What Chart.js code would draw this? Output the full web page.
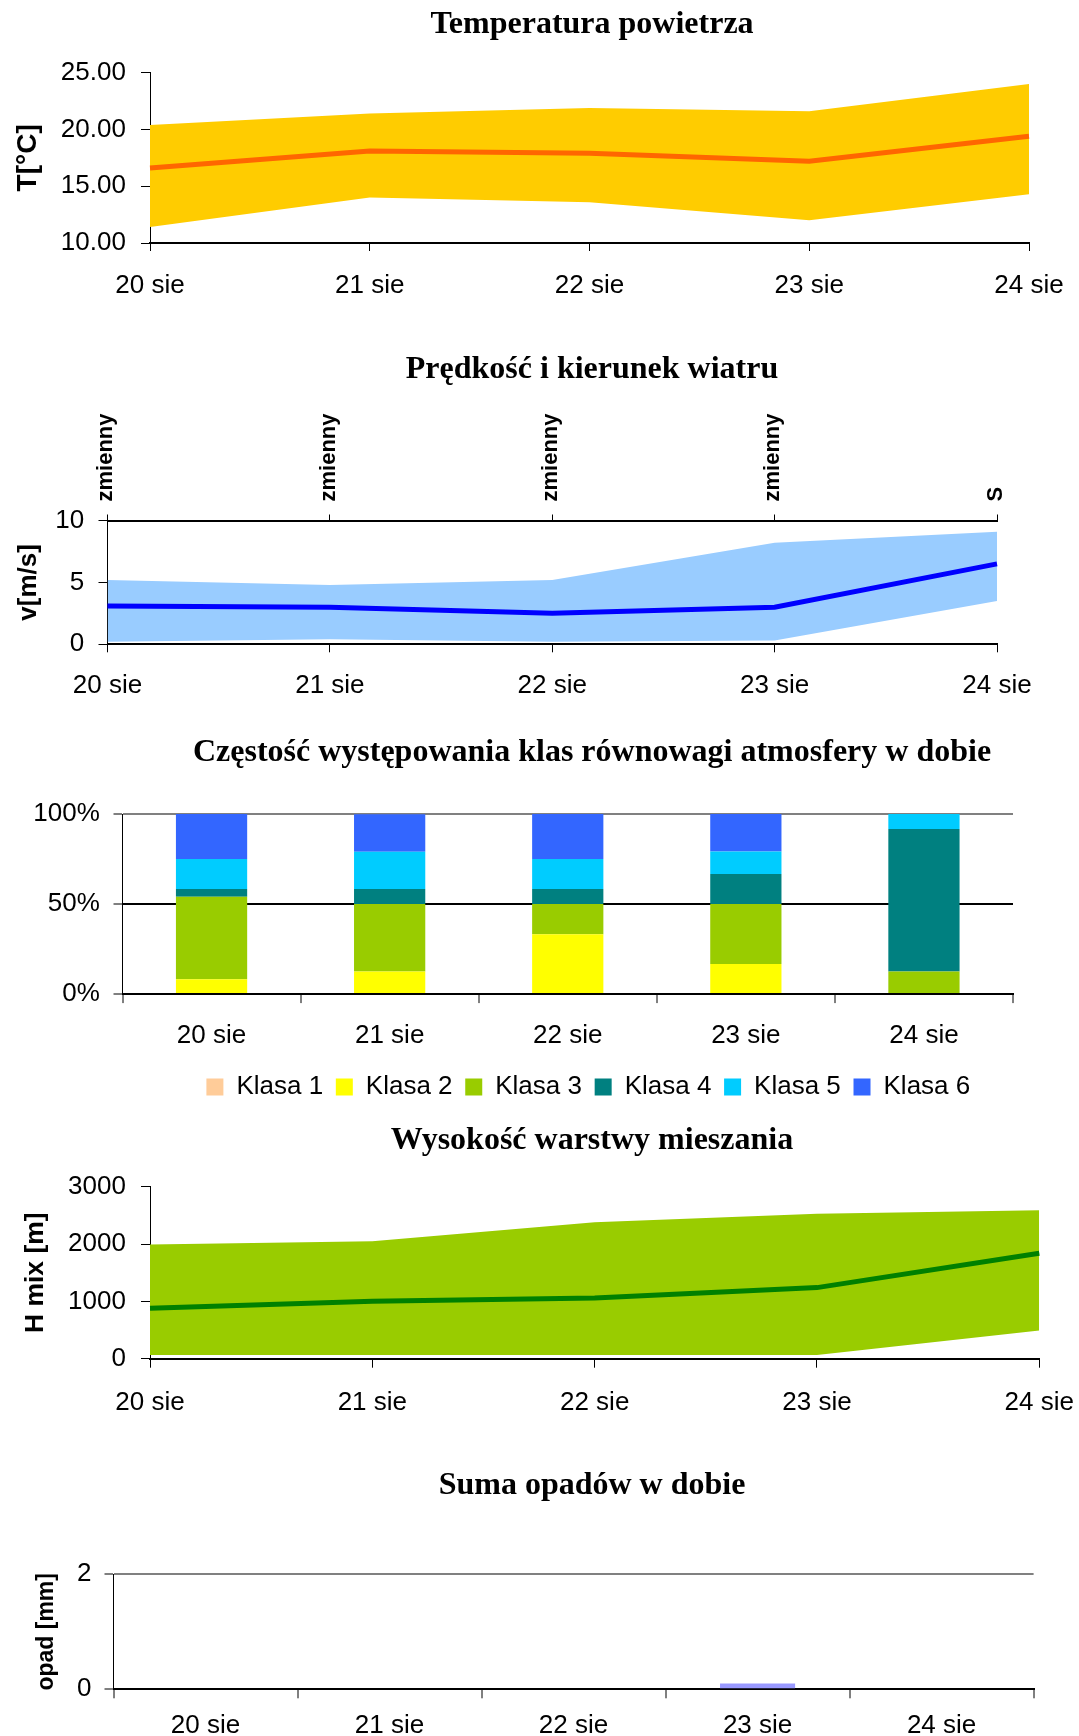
<!DOCTYPE html>
<html><head><meta charset="utf-8">
<script src="https://cdn.jsdelivr.net/npm/chart.js@4.4.1/dist/chart.umd.min.js"></script>
<style>
html,body{margin:0;padding:0;background:#fff;}
#wrap{position:relative;width:1079px;height:1736px;overflow:hidden;background:#fff;}
canvas{position:absolute;left:0;}
</style></head><body>
<div id="wrap">
<canvas id="c1" width="1079" height="330" style="top:0px;width:1079px;height:330px"></canvas>
<canvas id="c2" width="1079" height="385" style="top:330px;width:1079px;height:385px"></canvas>
<canvas id="c3" width="1079" height="395" style="top:715px;width:1079px;height:395px"></canvas>
<canvas id="c4" width="1079" height="330" style="top:1110px;width:1079px;height:330px"></canvas>
<canvas id="c5" width="1079" height="296" style="top:1440px;width:1079px;height:296px"></canvas>
</div>
<script>
// ---- data ----
const days = ['20 sie', '21 sie', '22 sie', '23 sie', '24 sie'];

const tempMean = [16.6, 18.1, 17.9, 17.2, 19.4];
const tempMax  = [20.4, 21.4, 21.9, 21.6, 24.0];
const tempMin  = [11.4, 14.0, 13.6, 12.0, 14.3];
const tempTicks = [10, 15, 20, 25];

const windDir  = ['zmienny', 'zmienny', 'zmienny', 'zmienny', 'S'];
const windMean = [3.1, 3.0, 2.5, 3.0, 6.5];
const windMax  = [5.2, 4.8, 5.2, 8.2, 9.1];
const windMin  = [0.2, 0.4, 0.2, 0.3, 3.5];

const classNames = ['Klasa 1', 'Klasa 2', 'Klasa 3', 'Klasa 4', 'Klasa 5', 'Klasa 6'];
const klasa1 = [0, 0, 0, 0, 0];
const klasa2 = [8.3, 12.5, 33.3, 16.7, 0];
const klasa3 = [45.8, 37.5, 16.7, 33.3, 12.5];
const klasa4 = [4.2, 8.3, 8.3, 16.7, 79.2];
const klasa5 = [16.7, 20.8, 16.7, 12.5, 8.3];
const klasa6 = [25.0, 20.8, 25.0, 20.8, 0];

const hmixMean = [880, 1000, 1060, 1240, 1840];
const hmixMax  = [1990, 2050, 2380, 2530, 2590];
const hmixMin  = [65, 65, 65, 65, 490];

const precip = [0, 0, 0, 0.1, 0];

// ---- styling helpers ----
Chart.defaults.font.family = "'Liberation Sans', Arial, sans-serif";
Chart.defaults.color = '#000';
const titleFont = {family: "'Liberation Serif', 'Times New Roman', serif", size: 32, weight: 'bold'};
const tickFont = {size: 26};
const axisTitleFont = {size: 26, weight: 'bold'};
const NONE = 'rgba(0,0,0,0)';

const layoutTweaks = {
  id: 'layoutTweaks',
  afterLayout(chart, args, opts) {
    if (opts && opts.titleCenter !== undefined && chart.titleBlock) {
      const t = chart.titleBlock;
      t.left = opts.titleCenter - 500; t.right = opts.titleCenter + 500; t.width = 1000;
    }
    if (opts && opts.legendLeft !== undefined && chart.legend) {
      const lg = chart.legend; const w = lg.right - lg.left;
      lg.left = opts.legendLeft; lg.right = opts.legendLeft + w;
    }
  }
};
Chart.register(layoutTweaks);

function fixX(h) { return function (s) { s.height = h; s.paddingLeft = 0; s.paddingRight = 0; }; }
function fixY(w) { return function (s) { s.width = w; }; }

function base(padRight, title, tPadTop, tPadBottom) {
  return {
    responsive: false, animation: false, devicePixelRatio: 1,
    layout: {padding: {left: 0, right: padRight, top: 0, bottom: 0}},
    plugins: {
      legend: {display: false}, tooltip: {enabled: false},
      title: {display: true, text: title, font: titleFont, color: '#000', fullSize: false,
              padding: {top: tPadTop, bottom: tPadBottom}},
      layoutTweaks: {titleCenter: 592}
    }
  };
}

function bandDatasets(mean, max, min, lineColor, bandColor, lw) {
  return [
    {data: mean, borderColor: lineColor, borderWidth: lw, pointRadius: 0, tension: 0, fill: false},
    {data: max, borderColor: NONE, borderWidth: 0, backgroundColor: bandColor, pointRadius: 0, tension: 0, fill: '+1'},
    {data: min, borderColor: NONE, borderWidth: 0, backgroundColor: bandColor, pointRadius: 0, tension: 0, fill: false}
  ];
}

function lineX(h, tickPad, tickLen) {
  return {type: 'category', offset: false,
    grid: {drawOnChartArea: false, color: '#000', tickLength: tickLen},
    border: {color: '#000', width: 2},
    ticks: {font: tickFont, color: '#000', padding: tickPad, maxRotation: 0, minRotation: 0, autoSkip: false},
    afterFit: fixX(h)};
}

// ---- chart 1: temperature ----
const o1 = base(50, 'Temperatura powietrza', 5.8, 28.5);
o1.scales = {
  x: lineX(87, 18.9, 8),
  y: {min: tempTicks[0], max: tempTicks[tempTicks.length - 1],
      afterBuildTicks: s => { s.ticks = tempTicks.map(v => ({value: v})); },
      ticks: {font: tickFont, padding: 15.1, callback: v => Number(v).toFixed(2)},
      grid: {drawOnChartArea: false, color: '#000', tickLength: 9},
      border: {color: '#000', width: 1},
      title: {display: true, text: 'T[°C]', font: {size: 28, weight: 'bold'}, color: '#000', padding: {top: 11.4, bottom: 0}},
      afterFit: fixY(150)}
};
new Chart(document.getElementById('c1'), {
  type: 'line',
  data: {labels: days, datasets: bandDatasets(tempMean, tempMax, tempMin, '#FF6600', '#FFCC00', 5)},
  options: o1
});

// ---- chart 2: wind ----
const o2 = base(82, 'Prędkość i kierunek wiatru', 20.3, 0);
o2.scales = {
  x: lineX(70.7, 17.6, 8),
  x2: {type: 'category', labels: windDir, position: 'top', offset: false,
       grid: {drawOnChartArea: false, color: '#000', tickLength: 6},
       border: {color: '#000', width: 2},
       ticks: {font: {size: 22, weight: 'bold'}, color: '#000', padding: 13, labelOffset: 25,
               minRotation: 90, maxRotation: 90, autoSkip: false},
       afterFit: fixX(131.8)},
  y: {min: 0, max: 10,
      ticks: {stepSize: 5, font: tickFont, padding: 14.3},
      grid: {drawOnChartArea: false, color: '#000', tickLength: 9},
      border: {color: '#000', width: 1},
      title: {display: true, text: 'v[m/s]', font: axisTitleFont, color: '#000', padding: {top: 13, bottom: 0}},
      afterFit: fixY(107.5)}
};
new Chart(document.getElementById('c2'), {
  type: 'line',
  data: {labels: days, datasets: bandDatasets(windMean, windMax, windMin, '#0000FF', '#99CCFF', 5)},
  options: o2
});

// ---- chart 3: stability classes ----
const classColors = ['#FFCC99', '#FFFF00', '#99CC00', '#008080', '#00CCFF', '#3366FF'];
const classData = [klasa1, klasa2, klasa3, klasa4, klasa5, klasa6];
const o3 = base(66, 'Częstość występowania klas równowagi atmosfery w dobie', 18.3, 42.3);
o3.plugins.legend = {display: true, position: 'bottom', align: 'start',
  labels: {boxWidth: 17, boxHeight: 17, padding: 12.7, font: {size: 26}, color: '#000'}};
o3.plugins.layoutTweaks.legendLeft = 193.7;
o3.scales = {
  x: {stacked: true, offset: true,
      grid: {offset: true, drawOnChartArea: true, lineWidth: 2, tickLength: 9, tickColor: '#000', tickWidth: 1,
             color: c => (c.index === days.length ? '#808080' : NONE)},
      border: {color: '#000', width: 2},
      ticks: {font: tickFont, padding: 16.9, maxRotation: 0, autoSkip: false},
      afterFit: fixX(67.2)},
  y: {stacked: true, min: 0, max: 100,
      ticks: {stepSize: 50, font: tickFont, padding: 13.7, callback: v => v + '%'},
      grid: {lineWidth: 2, tickLength: 9, tickColor: '#000', tickWidth: 1,
             color: c => (c.tick && c.tick.value === 50 ? '#000' : (c.tick && c.tick.value === 100 ? '#808080' : NONE))},
      border: {color: '#000', width: 1},
      afterFit: fixY(122.5)}
};
new Chart(document.getElementById('c3'), {
  type: 'bar',
  data: {labels: days, datasets: classNames.map((n, i) => ({
    label: n, data: classData[i], backgroundColor: classColors[i], borderWidth: 0,
    barPercentage: 0.4, categoryPercentage: 1.0}))},
  options: o3
});

// ---- chart 4: mixing height ----
const o4 = base(39.7, 'Wysokość warstwy mieszania', 11.3, 27);
o4.scales = {
  x: lineX(81.3, 19.2, 9),
  y: {min: 0, max: 3000,
      ticks: {stepSize: 1000, font: tickFont, padding: 15.1, callback: v => String(v)},
      grid: {drawOnChartArea: false, color: '#000', tickLength: 9},
      border: {color: '#000', width: 1},
      title: {display: true, text: 'H mix [m]', font: {size: 26.5, weight: 'bold'}, color: '#000', padding: {top: 20.2, bottom: 0}},
      afterFit: fixY(150)}
};
new Chart(document.getElementById('c4'), {
  type: 'line',
  data: {labels: days, datasets: bandDatasets(hmixMean, hmixMax, hmixMin, '#008000', '#99CC00', 5)},
  options: o4
});

// ---- chart 5: precipitation ----
const o5 = base(45.4, 'Suma opadów w dobie', 26.3, 69.6);
o5.scales = {
  x: {offset: true,
      grid: {offset: true, drawOnChartArea: true, lineWidth: 2, tickLength: 9, tickColor: '#000', tickWidth: 1,
             color: c => (c.index === days.length ? '#808080' : NONE)},
      border: {color: '#000', width: 2},
      ticks: {font: tickFont, padding: 11.6, maxRotation: 0, autoSkip: false},
      afterFit: fixX(46.7)},
  y: {min: 0, max: 2,
      ticks: {stepSize: 2, font: tickFont, padding: 13.1},
      grid: {lineWidth: 2, tickLength: 9, tickColor: '#000', tickWidth: 1,
             color: c => (c.tick && c.tick.value === 2 ? '#808080' : NONE)},
      border: {color: '#000', width: 1},
      title: {display: true, text: 'opad [mm]', font: {size: 23, weight: 'bold'}, color: '#000', padding: {top: 32.7, bottom: 0}},
      afterFit: fixY(113.5)}
};
new Chart(document.getElementById('c5'), {
  type: 'bar',
  data: {labels: days, datasets: [{label: 'opad', data: precip, backgroundColor: '#9999FF', borderWidth: 0,
    barPercentage: 0.408, categoryPercentage: 1.0}]},
  options: o5
});
</script>
</body></html>
